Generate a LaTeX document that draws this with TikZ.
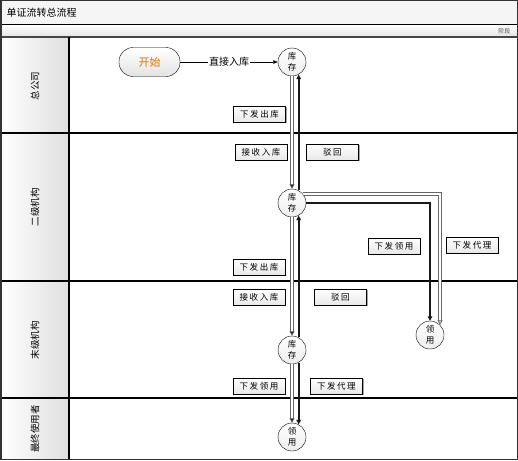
\documentclass[tikz,border=0pt]{standalone}
\usepackage{fontspec}
\setmainfont{Noto Sans CJK SC}
\newfontfamily\tagfont[LetterSpace=18]{Noto Sans CJK SC}
\usetikzlibrary{arrows.meta,shadows,positioning}

\begin{document}
\begin{tikzpicture}[x=1pt, y=-1pt,
        lanelbl/.style={rotate=90, font=\fontsize{9.5}{10}\selectfont},
        startbox/.style={rectangle, draw, rounded corners=14pt, minimum width=61pt, minimum height=29pt, top color=white, bottom color=gray!22, text=orange!90!black, font=\fontsize{11}{12}\selectfont},
        tag/.style={rectangle, draw, top color=white, bottom color=gray!18, minimum width=52pt, minimum height=16pt, inner sep=0pt, font=\tagfont\fontsize{8.5}{9}\selectfont, drop shadow={shadow xshift=1.3pt, shadow yshift=-1.3pt, fill=gray!70, opacity=1}},
        store/.style={circle, draw, inner sep=0pt, minimum size=28pt, align=center, top color=white, bottom color=gray!14, font=\fontsize{8.5}{11.5}\selectfont},
        link/.style={draw=black, line width=0.7pt, -{Triangle[length=4.5pt,width=3.5pt]}},
        fwd/.style={draw=gray!80!black, double=white, line width=0.8pt, double distance=1.8pt, -{Triangle[length=4.5pt,width=5pt,fill=black]}},
        fwdopen/.style={fwd, -{Triangle[open,length=4.5pt,width=5pt,fill=white]}},
        back/.style={draw=gray!20!black, line width=1.8pt, -{Triangle[length=4.5pt,width=4.5pt]}},
        backopen/.style={back, -{Triangle[open,length=4.5pt,width=4.5pt,fill=white]}},
        lbl/.style={fill=white, inner sep=1pt, font=\fontsize{10}{12}\selectfont}
    ]
        \useasboundingbox (0,0) rectangle (518,460);

        % Title and phase bar
        \fill[gray!8] (0,0) rectangle (518,25);
        \shade[top color=white, bottom color=gray!22] (0,25) rectangle (518,37);
        \node[anchor=west, font=\fontsize{10}{12}\selectfont] (title) at (3,13) {单证流转总流程};
        \node[anchor=east, font=\fontsize{6}{7}\selectfont, text=gray!60!black] (phase) at (514,31) {阶段};

        % Lanes
        \shade[left color=white, right color=gray!25] (0,37) rectangle (69,459);
        \draw[line width=1pt] (0,25) -- (518,25);
        \draw[line width=1.6pt, gray!55!black] (0,37) -- (518,37);
        \draw[line width=1.2pt] (0,133) -- (518,133);
        \draw[line width=1.2pt] (0,281) -- (518,281);
        \draw[line width=1.2pt] (0,398) -- (518,398);
        \draw[line width=1.2pt] (69,37) -- (69,459);
        \draw[line width=1.5pt, gray!40!black] (0.75,0.75) rectangle (517.25,459.25);

        \node[lanelbl] (hq) at (35,86) {总公司};
        \node[lanelbl] (lv2) at (35,207) {二级机构};
        \node[lanelbl] (lv3) at (35,340) {末级机构};
        \node[lanelbl] (user) at (35,429) {最终使用者};

        % Nodes
        \node[startbox] (start) at (149.5,62) {开始};
        \node[store] (kc1) at (292,62) {库\\存};
        \node[store] (kc2) at (292,203) {库\\存};
        \node[store] (kc3) at (292,350) {库\\存};
        \node[store] (ly3) at (430,335) {领\\用};
        \node[store] (ly4) at (292,437) {领\\用};

        \node[tag] (out1) at (259.5,114) {下发出库};
        \node[tag] (in2) at (261,152) {接收入库};
        \node[tag, right=19pt of in2] (rej2) {驳回};
        \node[tag] (use2) at (394,246) {下发领用};
        \node[tag] (agt2) at (472,245) {下发代理};
        \node[tag] (out2) at (259,267) {下发出库};
        \node[tag] (in3) at (259,297) {接收入库};
        \node[tag, right=29pt of in3] (rej3) {驳回};
        \node[tag] (use3) at (259,386) {下发领用};
        \node[tag, right=25pt of use3] (agt3) {下发代理};

        % Connectors
        \draw[link] (start) -- node[lbl] {直接入库} (kc1);
        \draw[fwd] (kc1) -- (kc2);
        \draw[back] (kc2.62) -- (kc1.-62);
        \draw[fwd] (kc2) -- (kc3);
        \draw[back] (kc3.62) -- (kc2.-62);
        \draw[fwd] (kc3) -- (ly4);
        \draw[backopen] (kc3.-62) -- (ly4.62);
        \draw[back] (kc2.east) -| (ly3.north);
        \draw[fwdopen] (kc2.40) -| (ly3.45);
    \end{tikzpicture}
\end{document}
